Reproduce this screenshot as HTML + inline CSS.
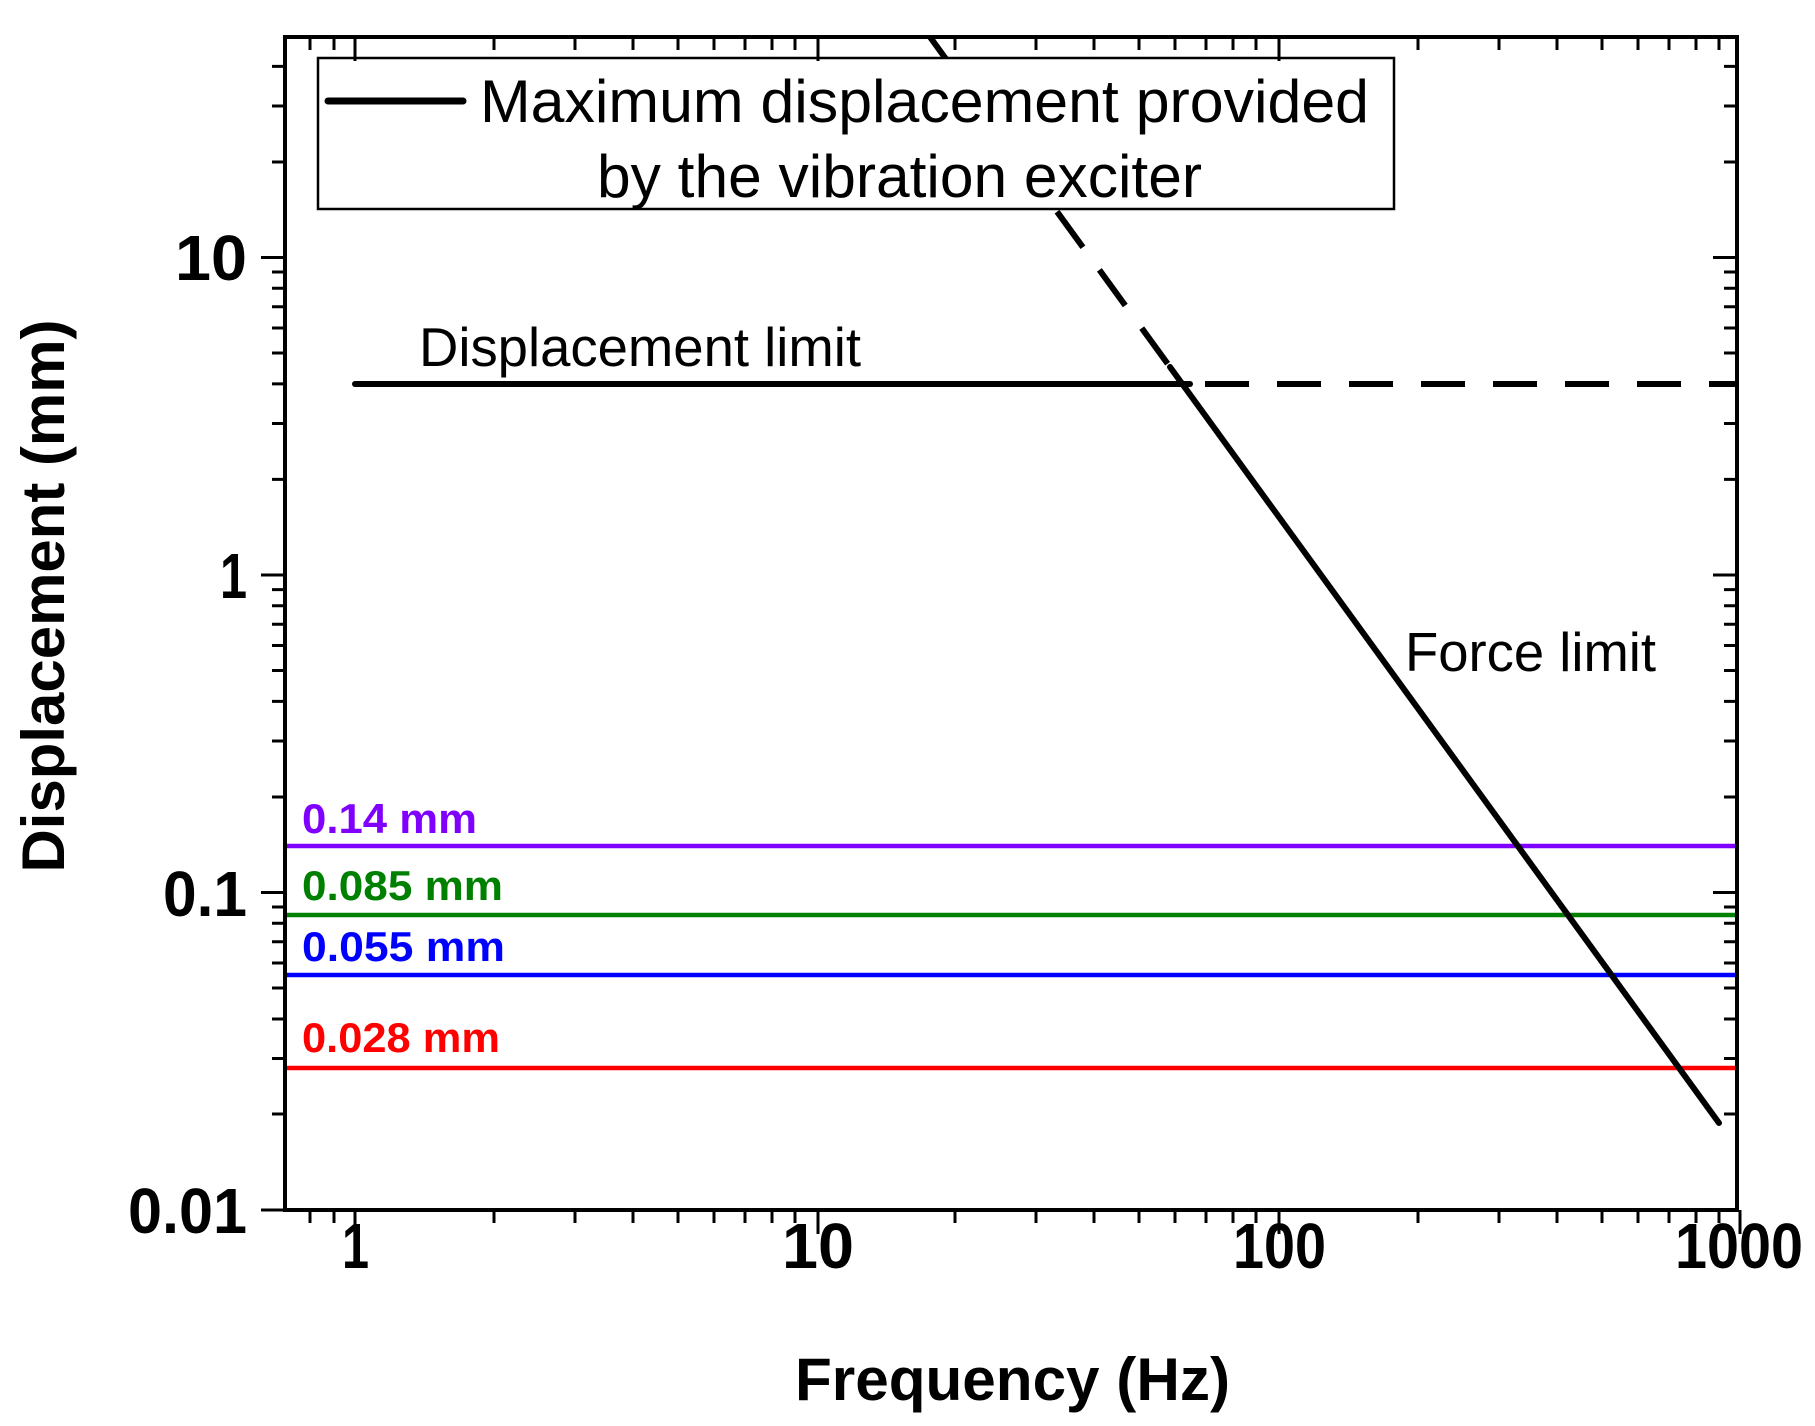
<!DOCTYPE html>
<html><head><meta charset="utf-8"><style>
html,body{margin:0;padding:0;background:#fff;}
svg{display:block;font-family:"Liberation Sans",Arial,sans-serif;}
</style></head><body>
<svg width="1815" height="1426" viewBox="0 0 1815 1426" xmlns="http://www.w3.org/2000/svg">
<rect width="1815" height="1426" fill="#fff"/>
<g stroke-width="4.5">
<line x1="285" y1="846" x2="1737" y2="846" stroke="#8000ff"/>
<line x1="285" y1="915" x2="1737" y2="915" stroke="#008000"/>
<line x1="285" y1="975" x2="1737" y2="975" stroke="#0000ff"/>
<line x1="285" y1="1068" x2="1737" y2="1068" stroke="#ff0000"/>
</g>
<g font-weight="bold" font-size="42" lengthAdjust="spacingAndGlyphs">
<text x="302" y="833" fill="#8000ff" textLength="175" lengthAdjust="spacingAndGlyphs">0.14 mm</text>
<text x="302" y="900" fill="#008000" textLength="201" lengthAdjust="spacingAndGlyphs">0.085 mm</text>
<text x="302" y="961" fill="#0000ff" textLength="203" lengthAdjust="spacingAndGlyphs">0.055 mm</text>
<text x="302" y="1052" fill="#ff0000" textLength="198" lengthAdjust="spacingAndGlyphs">0.028 mm</text>
</g>
<g stroke="#000" stroke-width="6" fill="none" stroke-linecap="round">
<line x1="355" y1="384" x2="1190" y2="384"/>
<line x1="1205" y1="384" x2="1737" y2="384" stroke-dasharray="44 28" stroke-linecap="butt"/>
<line x1="930" y1="37" x2="1170" y2="367" stroke-dasharray="44 28" stroke-linecap="butt"/>
<line x1="1170" y1="367" x2="1719" y2="1123"/>
</g>
<text x="419" y="366" font-size="55" textLength="442" lengthAdjust="spacingAndGlyphs">Displacement limit</text>
<text x="1405" y="671" font-size="55" textLength="251" lengthAdjust="spacingAndGlyphs">Force limit</text>
<rect x="318" y="58" width="1076" height="151" fill="#fff" stroke="#000" stroke-width="2.5"/>
<line x1="328" y1="101" x2="463" y2="101" stroke="#000" stroke-width="7" stroke-linecap="round"/>
<text x="480" y="122" font-size="60" textLength="889" lengthAdjust="spacingAndGlyphs">Maximum displacement provided</text>
<text x="597" y="197" font-size="60" textLength="605" lengthAdjust="spacingAndGlyphs">by the vibration exciter</text>
<rect x="285" y="37" width="1452" height="1173" fill="none" stroke="#000" stroke-width="4"/>
<g stroke="#000" stroke-width="3">
<path d="M355 1210v24M818 1210v24M1279 1210v24M1740 1210v24"/>
<path d="M310 1210v13M334 1210v13M494 1210v13M575 1210v13M633 1210v13M678 1210v13M714 1210v13M745 1210v13M772 1210v13M795 1210v13M955 1210v13M1036 1210v13M1094 1210v13M1139 1210v13M1175 1210v13M1206 1210v13M1233 1210v13M1256 1210v13M1418 1210v13M1499 1210v13M1557 1210v13M1602 1210v13M1638 1210v13M1669 1210v13M1696 1210v13M1719 1210v13"/>
<path d="M355 37v24M818 37v24M1279 37v24"/>
<path d="M310 37v13M334 37v13M494 37v13M575 37v13M633 37v13M678 37v13M714 37v13M745 37v13M772 37v13M795 37v13M955 37v13M1036 37v13M1094 37v13M1139 37v13M1175 37v13M1206 37v13M1233 37v13M1256 37v13M1418 37v13M1499 37v13M1557 37v13M1602 37v13M1638 37v13M1669 37v13M1696 37v13M1719 37v13"/>
<path d="M285 1210h-24M285 892.5h-24M285 575h-24M285 257.5h-24"/>
<path d="M285 1114h-13M285 1058.5h-13M285 1019h-13M285 988h-13M285 963h-13M285 941.7h-13M285 923.3h-13M285 907h-13M285 797h-13M285 741h-13M285 701.4h-13M285 670.5h-13M285 645.5h-13M285 624.2h-13M285 605.8h-13M285 589.6h-13M285 479.4h-13M285 423.5h-13M285 383.9h-13M285 353h-13M285 328h-13M285 306.7h-13M285 288.3h-13M285 272h-13M285 162h-13M285 106h-13M285 66.4h-13"/>
<path d="M1737 892.5h-24M1737 575h-24M1737 257.5h-24"/>
<path d="M1737 1114h-13M1737 1058.5h-13M1737 1019h-13M1737 988h-13M1737 963h-13M1737 941.7h-13M1737 923.3h-13M1737 907h-13M1737 797h-13M1737 741h-13M1737 701.4h-13M1737 670.5h-13M1737 645.5h-13M1737 624.2h-13M1737 605.8h-13M1737 589.6h-13M1737 479.4h-13M1737 423.5h-13M1737 383.9h-13M1737 353h-13M1737 328h-13M1737 306.7h-13M1737 288.3h-13M1737 272h-13M1737 162h-13M1737 106h-13M1737 66.4h-13"/>
</g>
<g font-size="64" font-weight="bold">
<text x="342" y="1268" textLength="27" lengthAdjust="spacingAndGlyphs">1</text>
<text x="782" y="1268" textLength="72" lengthAdjust="spacingAndGlyphs">10</text>
<text x="1233" y="1268" textLength="93" lengthAdjust="spacingAndGlyphs">100</text>
<text x="1675" y="1268" textLength="128" lengthAdjust="spacingAndGlyphs">1000</text>
<text x="128" y="1233" textLength="119" lengthAdjust="spacingAndGlyphs">0.01</text>
<text x="163" y="916" textLength="84" lengthAdjust="spacingAndGlyphs">0.1</text>
<text x="220" y="598" textLength="27" lengthAdjust="spacingAndGlyphs">1</text>
<text x="175" y="280" textLength="72" lengthAdjust="spacingAndGlyphs">10</text>
</g>
<text x="795" y="1400" font-size="60" font-weight="bold" textLength="435" lengthAdjust="spacingAndGlyphs">Frequency (Hz)</text>
<text transform="translate(64,596) rotate(-90)" font-size="60" font-weight="bold" text-anchor="middle" textLength="553" lengthAdjust="spacingAndGlyphs">Displacement (mm)</text>
</svg>
</body></html>
